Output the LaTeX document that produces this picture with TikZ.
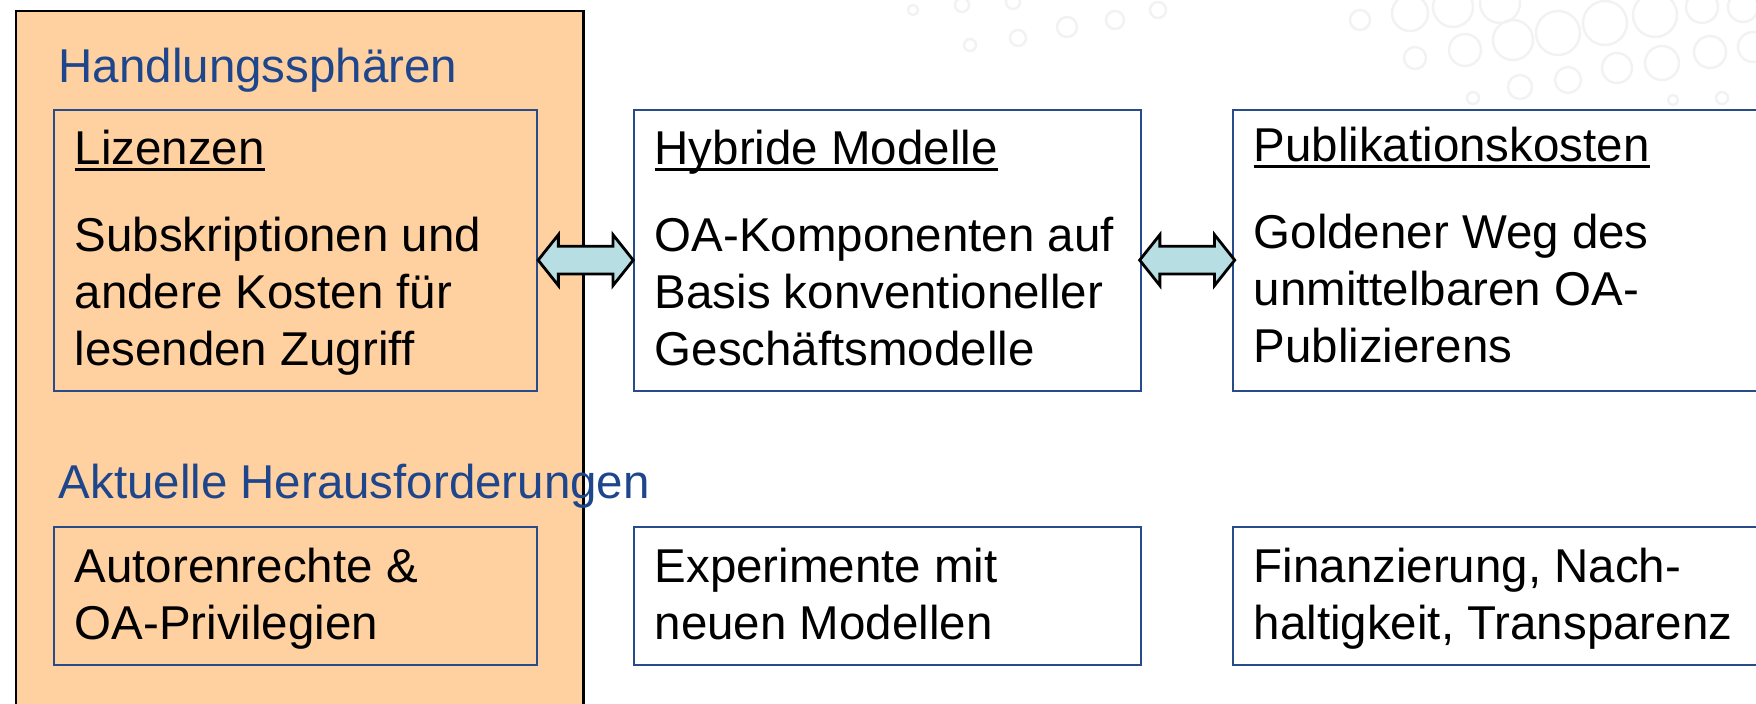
\documentclass[tikz,border=0pt]{standalone}
\usepackage{fontspec}
\setmainfont{Liberation Sans}
\usetikzlibrary{shapes.arrows}
\definecolor{spherefill}{RGB}{255,208,160}
\definecolor{titleblue}{RGB}{30,70,140}
\definecolor{frameblue}{RGB}{40,75,140}
\definecolor{linkfill}{RGB}{183,222,226}
\newcommand{\headline}[1]{\setbox0\hbox{#1}\rlap{\rule[-1.6pt]{\wd0}{0.7pt}}\box0}

\begin{document}
\begin{tikzpicture}[x=0.01cm, y=-0.01cm,
    every node/.style={font=\fontsize{13.5}{16.3}\selectfont},
    box/.style={draw=frameblue, line width=0.6pt, anchor=north west, inner sep=0pt},
    txt/.style={anchor=base west, align=left, inner sep=0pt},
    head/.style={txt, text=titleblue},
    link/.style={double arrow, draw=black, fill=linkfill, line width=0.8pt,
      inner sep=0.125cm, minimum height=0.95cm,
      double arrow head extend=0.115cm, double arrow tip angle=103},
    bubble/.style={draw=black!5, line width=0.7pt}]
  \useasboundingbox (0,0) rectangle (1756,704);
  \clip (0,0) rectangle (1756,704);

  % background rings
  \foreach \cx/\cy/\r in {1360/20/10, 1410/13/18, 1453/7/20, 1500/3/20, 1513/40/20,
      1558/33/22, 1605/23/22, 1655/15/22, 1702/7/16, 1743/7/15, 1415/58/11,
      1465/50/16, 1617/68/15, 1662/63/17, 1710/52/16, 1753/47/15, 1520/87/12,
      1568/80/13, 1473/98/6, 1722/98/6, 1673/100/5,
      913/10/5, 962/5/7, 1013/2/7, 970/45/6, 1018/38/8, 1067/27/10, 1115/20/9, 1158/10/8}
    \draw[bubble] (\cx,\cy) circle[radius=\r*0.01cm];

  % left column
  \node[draw=black, line width=0.7pt, fill=spherefill, anchor=north west, inner sep=0pt,
    minimum width=5.67cm, minimum height=7.2cm] (sphere) at (15,10) {};
  \node[head] (handl) at (58,83) {Handlungssphären};
  \node[box, minimum width=4.83cm, minimum height=2.81cm] (liz) at (53,109) {};
  \node[txt] (lizhead) at (74,165) {\headline{Lizenzen}};
  \node[txt] (lizbody) at (74,366) {Subskriptionen und\\andere Kosten für\\lesenden Zugriff};
  \node[head] (aktuell) at (58,499) {Aktuelle Herausforderungen};
  \node[box, minimum width=4.83cm, minimum height=1.38cm] (autor) at (53,526) {};
  \node[txt] (autorbody) at (74,640) {Autorenrechte \&\\OA-Privilegien};

  % middle column
  \node[box, minimum width=5.07cm, minimum height=2.81cm] (hyb) at (633,109) {};
  \node[txt] (hybhead) at (654,165) {\headline{Hybride Modelle}};
  \node[txt] (hybbody) at (654,366) {OA-Komponenten auf\\Basis konventioneller\\Geschäftsmodelle};
  \node[box, minimum width=5.07cm, minimum height=1.38cm] (exp) at (633,526) {};
  \node[txt] (expbody) at (654,640) {Experimente mit\\neuen Modellen};

  % right column
  \node[box, minimum width=5.5cm, minimum height=2.81cm] (pub) at (1232,109) {};
  \node[txt] (pubhead) at (1253,162) {\headline{Publikationskosten}};
  \node[txt] (pubbody) at (1253,363) {Goldener Weg des\\unmittelbaren OA-\\Publizierens};
  \node[box, minimum width=5.5cm, minimum height=1.38cm] (fin) at (1232,526) {};
  \node[txt] (finbody) at (1253,640) {Finanzierung, Nach-\\haltigkeit, Transparenz};

  % two-way links
  \path (liz.east) -- node[link, yshift=-0.095cm] {} (hyb.west);
  \path (hyb.east) -- node[link, yshift=-0.095cm] {} (pub.west);
\end{tikzpicture}
\end{document}
